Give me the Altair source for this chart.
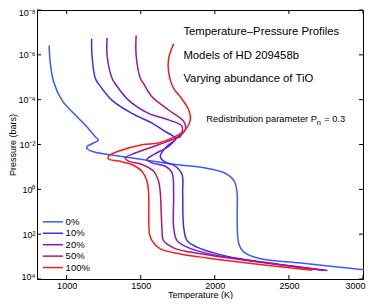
import altair as alt
import pandas as pd

# ---------------- data ----------------
series = ["0%", "10%", "20%", "50%", "100%"]
colors = ["#3b5bff", "#3a2cff", "#7a1ad6", "#b0157f", "#ff1a1a"]

T_0 = [882, 889, 912, 968, 1047, 1124, 1192, 1214, 1203, 1146, 1135, 1169, 1282, 1508, 1734, 1928, 2063, 2131, 2151, 2151, 2162, 2196, 2309, 2580, 3007]
logP_0 = [-6.42, -5.68, -4.80, -3.98, -3.39, -2.88, -2.36, -2.21, -2.14, -1.95, -1.85, -1.70, -1.55, -1.33, -1.11, -0.96, -0.74, -0.37, 0.22, 0.94, 2.44, 2.80, 3.10, 3.29, 3.59]

T_10 = [1169, 1171, 1194, 1214, 1305, 1440, 1576, 1666, 1734, 1734, 1677, 1632, 1654, 1734, 1779, 1783, 1790, 1813, 1880, 2016, 2174, 2760]
logP_10 = [-6.72, -5.98, -4.94, -4.72, -3.98, -3.39, -2.95, -2.58, -2.29, -2.21, -1.92, -1.48, -1.26, -1.03, -0.66, 0.15, 1.70, 2.29, 2.58, 2.88, 3.10, 3.62]

T_20 = [1273, 1273, 1307, 1327, 1417, 1553, 1688, 1779, 1767, 1745, 1688, 1587, 1542, 1576, 1666, 1711, 1722, 1722, 1745, 1813, 1971, 2745]
logP_20 = [-6.75, -5.98, -4.94, -4.72, -3.98, -3.39, -3.10, -2.81, -2.36, -2.29, -1.92, -1.55, -1.33, -1.18, -1.03, -0.74, 0.15, 1.70, 2.29, 2.58, 2.89, 3.62]

T_50 = [1469, 1469, 1498, 1519, 1576, 1688, 1790, 1801, 1756, 1620, 1463, 1395, 1417, 1508, 1587, 1620, 1632, 1643, 1654, 1722, 1835, 2727]
logP_50 = [-6.86, -5.98, -4.94, -4.72, -4.13, -3.54, -3.03, -2.66, -2.36, -1.99, -1.62, -1.40, -1.26, -1.11, -0.81, -0.37, 0.15, 1.70, 2.29, 2.61, 2.80, 3.61]

T_100 = [1722, 1688, 1688, 1722, 1767, 1824, 1835, 1801, 1734, 1620, 1508, 1349, 1282, 1282, 1349, 1440, 1508, 1542, 1553, 1559, 1576, 1632, 1767, 1948, 2174, 2659]
logP_100 = [-6.49, -5.83, -5.24, -4.50, -4.13, -3.54, -3.10, -2.66, -2.36, -2.07, -1.99, -1.70, -1.48, -1.36, -1.26, -1.11, -0.81, -0.37, 0.15, 1.99, 2.29, 2.66, 2.88, 3.06, 3.25, 3.61]

x_ticks = [1000, 1500, 2000, 2500, 3000]
y_ticks = [1e-8, 1e-6, 1e-4, 1e-2, 1e0, 1e2, 1e4]

title_lines = ["Temperature\u2013Pressure Profiles", "Models of HD 209458b", "Varying abundance of TiO"]
redist_parts = ["Redistribution parameter P", "n", "= 0.3"]

# ---------------- build tables ----------------
W, H = 326, 269
FONT = "Liberation Sans"

rows = []
for s, ts, lps in zip(series, [T_0, T_10, T_20, T_50, T_100],
                      [logP_0, logP_10, logP_20, logP_50, logP_100]):
    for i, (t, lp) in enumerate(zip(ts, lps)):
        rows.append({"series": s, "T": t, "P": 10 ** lp, "i": i})
df = pd.DataFrame(rows)

xscale = alt.Scale(domain=[800, 3000], nice=False, zero=False)
yscale = alt.Scale(type="log", domain=[1e-8, 1e4], reverse=True, nice=False)
cscale = alt.Scale(domain=series, range=colors)

sup_expr = ("'10' + replace(replace(replace(replace(replace(replace(replace("
            "'' + round(log(datum.value)/LN10),"
            "'-','\u207b'),'0','\u2070'),'2','\u00b2'),'4','\u2074'),'6','\u2076'),'8','\u2078'),'1','\u00b9')")

lines = alt.Chart(df).mark_line(strokeWidth=1.5, interpolate="catmull-rom").encode(
    x=alt.X("T:Q", scale=xscale,
            axis=alt.Axis(values=x_ticks, title="Temperature (K)", format="d",
                          labelPadding=2, titlePadding=0, labelFlush=True,
                          labelFlushOffset=2)),
    y=alt.Y("P:Q", scale=yscale,
            axis=alt.Axis(values=y_ticks, title="Pressure (bars)", labelExpr=sup_expr,
                          labelPadding=2, titlePadding=1, labelFlush=True,
                          labelFlushOffset=2)),
    color=alt.Color("series:N", scale=cscale, legend=None),
    order=alt.Order("i:Q"),
)

# hand-built legend (placed in data coordinates, lower left)
leg = pd.DataFrame({"series": series, "k": list(range(len(series)))})
leg_base = alt.Chart(leg).transform_calculate(
    P="pow(10, 1.45 + 0.51 * datum.k)", T0="840", T1="975", Tl="993")
leg_lines = leg_base.mark_rule(strokeWidth=1.5).encode(
    x="T0:Q", x2="T1:Q", y="P:Q",
    color=alt.Color("series:N", scale=cscale, legend=None))
leg_text = leg_base.mark_text(align="left", baseline="middle", font=FONT, fontSize=9.5).encode(
    x="Tl:Q", y="P:Q", text="series:N")

xt = pd.DataFrame({"T": x_ticks})
yt = pd.DataFrame({"P": y_ticks})
tick_b = alt.Chart(xt).mark_rule(color="black").encode(x="T:Q", y=alt.value(H), y2=alt.value(H - 4))
tick_t = alt.Chart(xt).mark_rule(color="black").encode(x="T:Q", y=alt.value(0), y2=alt.value(4))
tick_l = alt.Chart(yt).mark_rule(color="black").encode(y="P:Q", x=alt.value(0), x2=alt.value(4))
tick_r = alt.Chart(yt).mark_rule(color="black").encode(y="P:Q", x=alt.value(W), x2=alt.value(W - 4))

ann = pd.DataFrame({
    "text": title_lines,
    "T": [1788, 1788, 1788],
    "P": [10 ** -7.03, 10 ** -5.96, 10 ** -4.94],
})
ann_text = alt.Chart(ann).mark_text(align="left", baseline="middle", font=FONT, fontSize=11.3).encode(
    x="T:Q", y="P:Q", text="text:N")

red = pd.DataFrame({
    "text": redist_parts,
    "T": [1943, 2688, 2738],
    "P": [10 ** -3.13, 10 ** -2.97, 10 ** -3.13],
    "size": [9.3, 7.5, 9.3],
})
red_text = alt.Chart(red).mark_text(align="left", baseline="middle", font=FONT).encode(
    x="T:Q", y="P:Q", text="text:N",
    size=alt.Size("size:Q", scale=None, legend=None))

chart = alt.layer(lines, leg_lines, leg_text, tick_b, tick_t, tick_l, tick_r,
                  ann_text, red_text).properties(
    width=W, height=H,
    autosize=alt.AutoSizeParams(type="none"),
    padding={"left": 29, "top": 2, "right": 3, "bottom": 20},
).configure_view(stroke="black", strokeWidth=1).configure_axis(
    domain=False, ticks=False, grid=False,
    labelFont=FONT, labelFontSize=9, labelColor="black",
    titleFont=FONT, titleFontSize=9, titleFontWeight="normal", titleColor="black",
)

chart.save("out.html", embed_options={"renderer": "svg", "actions": False})
